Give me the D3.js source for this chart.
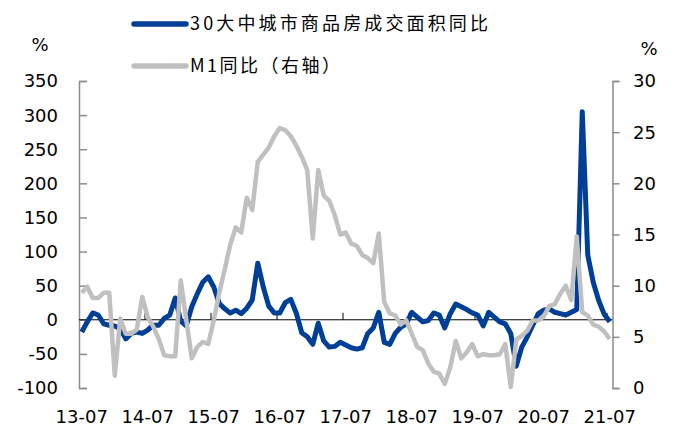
<!DOCTYPE html>
<html>
<head>
<meta charset="utf-8">
<script src="https://cdn.jsdelivr.net/npm/d3@7"></script>
<style>
  body { margin: 0; background: #fff; }
  text { font-family: "DejaVu Sans", Verdana, sans-serif; }
</style>
</head>
<body>
<div id="chart"></div>
<script>
// Data (monthly, 2013-07 .. 2021-07)
const months = d3.timeMonth.range(new Date(2013, 6, 1), new Date(2021, 7, 1)).map(d3.timeFormat("%y-%m"));

// 30大中城市商品房成交面积同比 (%), left axis
const housing = [
  -18, -3, 10, 7, -6, -8, -9, -13, -28, -20, -18, -20,
  -15, -8, -8, 2, 7, 32, -2, -9, 19, 38, 55, 63,
  48, 24, 16, 10, 14, 9, 17, 29, 83, 48, 20, 10,
  10, 25, 30, 10, -19, -25, -36, -5, -31, -40, -39, -33,
  -37, -41, -43, -41, -20, -12, 11, -33, -36, -20, -11, -6,
  11, 4, -3, -1, 10, 7, -12, 9, 23, 19, 15, 10,
  7, -9, 11, 4, -3, -6, -20, -68, -40, -25, -8, 9,
  14, 16, 11, 9, 7, 11, 15, 305, 95, 55, 28, 8,
  -3
];

// M1同比 (%), right axis
const m1 = [
  9.3, 9.9, 8.8, 8.8, 9.3, 9.3, 1.2, 6.8, 5.3, 5.3, 5.7, 8.9,
  6.9, 6.0, 4.8, 3.2, 3.1, 3.1, 10.5, 6.7, 2.9, 4.0, 4.5, 4.3,
  6.6, 9.3, 11.6, 14.0, 15.7, 15.2, 18.6, 17.4, 22.1, 22.8, 23.5, 24.6,
  25.4, 25.2, 24.6, 23.7, 22.6, 21.3, 14.6, 21.3, 18.8, 18.3, 16.9, 15.0,
  15.2, 14.1, 13.9, 13.0, 12.7, 12.2, 15.1, 8.4, 7.3, 7.1, 6.2, 6.6,
  5.3, 4.0, 3.7, 2.4, 1.6, 1.4, 0.4, 2.0, 4.6, 2.9, 3.5, 4.3,
  3.1, 3.3, 3.2, 3.2, 3.3, 4.3, 0.1, 4.7, 5.1, 5.6, 6.6, 6.6,
  7.0, 8.0, 8.2, 9.2, 10.0, 8.6, 14.8, 7.4, 7.1, 6.2, 6.0, 5.5,
  4.8
];

const xTickLabels = ["13-07", "14-07", "15-07", "16-07", "17-07", "18-07", "19-07", "20-07", "21-07"];
const leftTicks = [-100, -50, 0, 50, 100, 150, 200, 250, 300, 350];
const rightTicks = [0, 5, 10, 15, 20, 25, 30];
const legendNames = ["30大中城市商品房成交面积同比", "M1同比（右轴）"];
const colors = ["#003f98", "#c0c0c0"];

const W = 673, H = 427;
const plot = { left: 79, right: 612.5, top: 81, bottom: 388 };

const svg = d3.select("#chart").append("svg")
  .attr("width", W)
  .attr("height", H);

// Scales
const x = d3.scaleBand()
  .domain(d3.range(months.length))
  .range([plot.left, plot.right])
  .padding(0);
const cx = i => x(i) + x.bandwidth() / 2;

const yL = d3.scaleLinear().domain([-100, 350]).range([plot.bottom, plot.top]);
const yR = d3.scaleLinear().domain([0, 30]).range([plot.bottom, plot.top]);

// Left axis
const leftAxis = svg.append("g")
  .attr("transform", `translate(${plot.left},0)`)
  .call(d3.axisRight(yL).tickValues(leftTicks).tickSize(8).tickFormat(""));
leftAxis.select(".domain").attr("stroke", "#8c8c8c").attr("stroke-width", 1.5);
leftAxis.selectAll(".tick line").attr("stroke", "#8c8c8c").attr("stroke-width", 1.5);

svg.append("g").selectAll("text")
  .data(leftTicks)
  .join("text")
  .attr("x", 58)
  .attr("y", d => yL(d))
  .attr("dy", "0.36em")
  .attr("text-anchor", "end")
  .style("font-size", "18px")
  .text(d => d);

// Right axis
const rightAxis = svg.append("g")
  .attr("transform", `translate(${plot.right},0)`)
  .call(d3.axisRight(yR).tickValues(rightTicks).tickSize(7).tickFormat(""));
rightAxis.select(".domain").attr("stroke", "#8c8c8c").attr("stroke-width", 1.5);
rightAxis.selectAll(".tick line").attr("stroke", "#8c8c8c").attr("stroke-width", 1.5);

svg.append("g").selectAll("text")
  .data(rightTicks)
  .join("text")
  .attr("x", 633)
  .attr("y", d => yR(d))
  .attr("dy", "0.36em")
  .attr("text-anchor", "start")
  .style("font-size", "18px")
  .text(d => d);

// Units
svg.append("text").attr("x", 40).attr("y", 51).attr("text-anchor", "middle")
  .style("font-size", "18px").text("%");
svg.append("text").attr("x", 649).attr("y", 55).attr("text-anchor", "middle")
  .style("font-size", "18px").text("%");

// Zero line with year ticks
svg.append("line")
  .attr("x1", plot.left).attr("x2", plot.right)
  .attr("y1", yL(0)).attr("y2", yL(0))
  .attr("stroke", "#000").attr("stroke-width", 1);

const tickIdx = d3.range(12, months.length, 12);
svg.append("g").selectAll("line")
  .data(tickIdx)
  .join("line")
  .attr("x1", d => x(d)).attr("x2", d => x(d))
  .attr("y1", yL(0)).attr("y2", yL(0) - 7)
  .attr("stroke", "#000").attr("stroke-width", 1);

// X labels
svg.append("g").selectAll("text")
  .data(xTickLabels)
  .join("text")
  .attr("x", (d, k) => cx(k * 12))
  .attr("y", 417)
  .attr("dy", "0.36em")
  .attr("text-anchor", "middle")
  .style("font-size", "18px")
  .text(d => d);

// Lines
const lineL = d3.line().x((d, i) => cx(i)).y(d => yL(d));
const lineR = d3.line().x((d, i) => cx(i)).y(d => yR(d));

svg.append("path")
  .datum(housing)
  .attr("fill", "none")
  .attr("stroke", colors[0])
  .attr("stroke-width", 5)
  .attr("stroke-linejoin", "round")
  .attr("d", lineL);

svg.append("path")
  .datum(m1)
  .attr("fill", "none")
  .attr("stroke", colors[1])
  .attr("stroke-width", 4.5)
  .attr("stroke-linejoin", "round")
  .attr("d", lineR);

// Legend
const legend = svg.append("g");
const legendY = [24, 66];
const legendLen = [298, 150];
legendNames.forEach((name, k) => {
  legend.append("line")
    .attr("x1", 134).attr("x2", 186)
    .attr("y1", legendY[k]).attr("y2", legendY[k])
    .attr("stroke", colors[k])
    .attr("stroke-width", 5.5)
    .attr("stroke-linecap", "round");
  legend.append("text")
    .attr("x", 190)
    .attr("y", legendY[k])
    .attr("dy", "0.36em")
    .attr("textLength", legendLen[k])
    .attr("lengthAdjust", "spacing")
    .style("font-family", "'Noto Sans CJK SC', sans-serif")
    .style("font-size", "18px")
    .text(name);
});
</script>
</body>
</html>
